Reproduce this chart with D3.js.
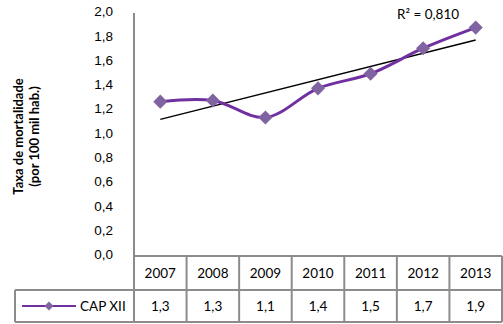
<!DOCTYPE html>
<style>
  body { margin: 0; background: #fff; }
  svg { font-family: Lato, 'Open Sans', sans-serif; }
  .grid line { stroke: #8c8c8c; stroke-width: 2; }
  .tick text { font-size: 13.5px; fill: #000; }
</style>
<body>
</body>
<script src="https://cdn.jsdelivr.net/npm/d3@7"></script>
<script>
  const years = ['2007', '2008', '2009', '2010', '2011', '2012', '2013'];
  const values = [1.27, 1.28, 1.14, 1.38, 1.50, 1.71, 1.88];
  const tableLabels = ['1,3', '1,3', '1,1', '1,4', '1,5', '1,7', '1,9'];
  const yTicks = [0, 0.2, 0.4, 0.6, 0.8, 1.0, 1.2, 1.4, 1.6, 1.8, 2.0];
  const seriesName = 'CAP XII';
  const r2Text = 'R² = 0,810';

  const w = 503, h = 324;
  const l = 134, r = 502, t = 13, b = 256;
  const row1 = 290, row2 = 322, legL = 15;

  const svg = d3.select('body').append('svg')
    .attr('width', w).attr('height', h);

  const x = d3.scaleBand().domain(years).range([l, r]);
  const y = d3.scaleLinear().domain([0, 2]).range([b, t]);
  const fmt = d => d3.format('.1f')(d).replace('.', ',');

  // y axis labels
  svg.append('g')
    .attr('transform', `translate(${l}, 0)`)
    .call(d3.axisLeft(y).tickValues(yTicks).tickFormat(fmt).tickSize(0).tickPadding(21))
    .call(g => g.select('.domain').remove())
    .call(g => g.selectAll('text').attr('dy', '0.2em'));

  // title
  const title = svg.append('text')
    .attr('transform', `translate(23, ${(t + b) / 2 + 2}) rotate(-90)`)
    .attr('text-anchor', 'middle')
    .attr('font-size', 13).attr('font-weight', 'bold');
  title.append('tspan').attr('x', 0).attr('dy', 0).text('Taxa de mortalidade');
  title.append('tspan').attr('x', 0).attr('dy', 16).text('(por 100 mil hab.)');

  // table grid
  const grid = svg.append('g').attr('class', 'grid');
  grid.append('line').attr('x1', l).attr('x2', l).attr('y1', t).attr('y2', row2);
  [b, row1, row2].forEach(yy => {
    grid.append('line').attr('x1', yy === b ? l : legL).attr('x2', r).attr('y1', yy).attr('y2', yy);
  });
  grid.append('line').attr('x1', legL).attr('x2', legL).attr('y1', row1).attr('y2', row2);
  years.forEach(d => {
    const xx = x(d) + x.bandwidth();
    grid.append('line').attr('x1', xx).attr('x2', xx).attr('y1', b).attr('y2', row2);
  });

  svg.append('g').selectAll('text')
    .data(years).join('text')
    .attr('x', d => x(d) + x.bandwidth() / 2)
    .attr('y', (b + row1) / 2 + 5)
    .attr('text-anchor', 'middle').attr('font-size', 13.5)
    .text(d => d);

  svg.append('g').selectAll('text')
    .data(tableLabels).join('text')
    .attr('x', (d, i) => x(years[i]) + x.bandwidth() / 2)
    .attr('y', (row1 + row2) / 2 + 5)
    .attr('text-anchor', 'middle').attr('font-size', 13.5)
    .text(d => d);

  // trend line (least squares)
  const n = values.length;
  const mx = d3.mean(values, (d, i) => i), my = d3.mean(values);
  const slope = d3.sum(values, (d, i) => (i - mx) * (d - my)) / d3.sum(values, (d, i) => (i - mx) ** 2);
  const icpt = my - slope * mx;
  const cx = i => x(years[i]) + x.bandwidth() / 2;
  svg.append('line')
    .attr('x1', cx(0)).attr('y1', y(icpt))
    .attr('x2', cx(n - 1)).attr('y2', y(icpt + slope * (n - 1)))
    .attr('stroke', '#000').attr('stroke-width', 1.5);

  // series
  const line = d3.line()
    .x((d, i) => cx(i)).y(d => y(d))
    .curve(d3.curveCatmullRom.alpha(0.5));
  svg.append('path')
    .datum(values)
    .attr('d', line)
    .attr('fill', 'none').attr('stroke', '#7030A0').attr('stroke-width', 3);

  const diamond = d3.symbol().type(d3.symbolSquare).size(100);
  svg.append('g').selectAll('path')
    .data(values).join('path')
    .attr('d', diamond)
    .attr('transform', (d, i) => `translate(${cx(i)}, ${y(d)}) rotate(45)`)
    .attr('fill', '#8064A2');

  svg.append('text')
    .attr('x', 397).attr('y', 19)
    .attr('font-size', 13.5)
    .text(r2Text);

  // legend inside table
  const ly = (row1 + row2) / 2;
  svg.append('line')
    .attr('x1', 22).attr('x2', 76).attr('y1', ly).attr('y2', ly)
    .attr('stroke', '#7030A0').attr('stroke-width', 2);
  svg.append('path')
    .attr('d', d3.symbol().type(d3.symbolSquare).size(40))
    .attr('transform', `translate(49, ${ly}) rotate(45)`)
    .attr('fill', '#8064A2');
  svg.append('text')
    .attr('x', 80).attr('y', ly + 5)
    .attr('font-size', 13.5)
    .text(seriesName);
</script>
